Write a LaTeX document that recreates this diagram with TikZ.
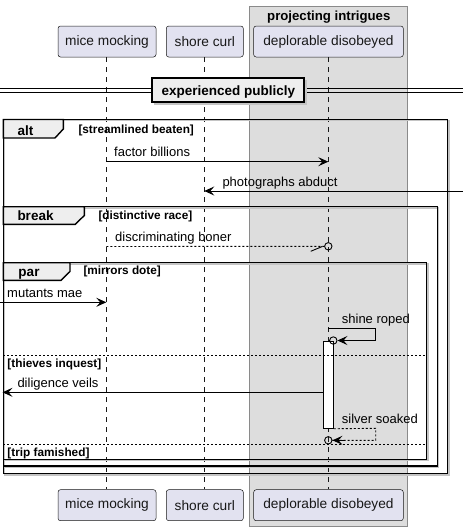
\documentclass[tikz,border=0pt]{standalone}
\usepackage{fontspec}
\setmainfont{Liberation Sans}
\usetikzlibrary{arrows.meta}
\definecolor{partfill}{HTML}{E2E2F0}
\definecolor{partline}{HTML}{181818}
\definecolor{boxfill}{HTML}{DDDDDD}
\definecolor{boxline}{HTML}{8A8A8A}
\definecolor{tabfill}{HTML}{EEEEEE}
\definecolor{shadowc}{HTML}{C4C4C4}
\begin{document}
\begin{tikzpicture}[x=1pt,y=-1pt,
  part/.style={draw=partline, fill=partfill, rounded corners=2.5pt, minimum height=31pt, inner sep=0pt, font=\fontsize{13.7}{16}\selectfont, line width=0.5pt, text=partline},
  life/.style={draw=partline, dash pattern=on 5pt off 5pt, line width=0.5pt},
  tipa/.style={-{Stealth[length=10pt,width=9pt,inset=4pt]}},
  msg/.style={line width=0.9pt, tipa},
  dmsg/.style={line width=0.9pt, dash pattern=on 2pt off 2pt},
  lbl/.style={anchor=base west, inner sep=0pt, font=\fontsize{13}{15}\selectfont},
  bold/.style={anchor=base west, inner sep=0pt, font=\fontsize{13.5}{16}\bfseries},
  guard/.style={anchor=base west, inner sep=0pt, font=\fontsize{11.8}{14}\bfseries},
  frame/.style={line width=1.4pt, draw=black},
  fshadow/.style={line width=1.2pt, draw=shadowc},
  tab/.style={line width=1.4pt, draw=black, fill=tabfill},
  sep/.style={line width=0.7pt, dash pattern=on 2pt off 2pt},
  endc/.style={circle, draw=black, line width=0.9pt, minimum size=7.4pt, inner sep=0pt, fill=none},
]
\useasboundingbox (0,0) rectangle (463,531);
% box
\draw[fill=boxfill, draw=boxline, line width=0.7pt] (249.7,6) rectangle (407.3,526);
\node[inner sep=0pt, anchor=base, font=\fontsize{13.2}{16}\bfseries] (boxt) at (328.8,20) {projecting intrigues};
% participants
\node[part, minimum width=98pt] (p1) at (107,41.5) {mice mocking};
\node[part, minimum width=77pt] (p2) at (204.8,41.5) {shore curl};
\node[part, minimum width=149.6pt] (p3) at (328.5,41.5) {deplorable disobeyed};
\node[part, minimum width=98pt] (q1) at (107,505.2) {mice mocking};
\node[part, minimum width=77pt] (q2) at (204.8,505.2) {shore curl};
\node[part, minimum width=149.6pt] (q3) at (328.5,505.2) {deplorable disobeyed};
\draw[life] (p1.south -| 106.3,0) -- (q1.north -| 106.3,0);
\draw[life] (p2.south -| 204.3,0) -- (q2.north -| 204.3,0);
\draw[life] (p3.south -| 328.3,0) -- (q3.north -| 328.3,0);
% divider
\draw[line width=0.8pt] (0,88.5) -- (463,88.5) (0,92) -- (463,92);
\fill[shadowc] (153.5,79.5) rectangle (307,105);
\node[draw=black, line width=2pt, fill=tabfill, minimum width=152pt, minimum height=24pt, inner sep=0pt] (div) at (228.4,90.4) {};
\node[inner sep=0pt, anchor=base, font=\fontsize{13.5}{16}\bfseries] (divt) at (228.4,95.3) {experienced publicly};
% frame shadows
\draw[fshadow] (4.5,120.7) rectangle (448.9,474.9);
\draw[fshadow] (4.5,207.9) rectangle (438.5,467.2);
\draw[fshadow] (4.5,263.9) rectangle (427.9,460.5);
% alt frame
\draw[frame] (3.3,119.5) rectangle (447.7,473.7);
\draw[tab] (3.3,119.5) -- (63.3,119.5) -- (63.3,129) -- (55,138) -- (3.3,138) -- cycle;
\node[bold] (altl) at (17.3,135) {alt};
\node[guard] (altg) at (78.3,133.8) {[streamlined beaten]};
% messages
\coordinate (a1) at (106.3,161.7);
\coordinate (b1) at (328.3,161.7);
\draw[msg] (a1) -- (b1);
\node[lbl] (t1) at (114,156.6) {factor billions};
\coordinate (a2) at (463,191);
\coordinate (b2) at (204.3,191);
\draw[msg] (a2) -- (b2);
\node[lbl] (t2) at (222.3,186) {photographs abduct};
% break frame
\draw[frame] (3.3,206.7) rectangle (437.3,466);
\draw[tab] (3.3,206.7) -- (84.3,206.7) -- (84.3,215.5) -- (75.3,224.3) -- (3.3,224.3) -- cycle;
\node[bold] (brl) at (17.3,220.6) {break};
\node[guard] (brg) at (98.3,219.6) {[distinctive race]};
\coordinate (a3) at (106.3,246.5);
\node[endc] (c3) at (328.3,246.3) {};
\draw[dmsg] (a3) -- (c3.west);
\draw[line width=0.9pt] (310.7,251.3) -- (322.3,246.5);
\node[lbl] (t3) at (115,241.6) {discriminating boner};
% par frame
\draw[frame] (3.3,262.7) rectangle (426.7,459.3);
\draw[tab] (3.3,262.7) -- (70,262.7) -- (70,271.5) -- (61,280.3) -- (3.3,280.3) -- cycle;
\node[bold] (parl) at (18.3,276.5) {par};
\node[guard] (parg) at (83.3,274.3) {[mirrors dote]};
\coordinate (a4) at (0,302.3);
\coordinate (b4) at (106.3,302.3);
\draw[msg] (a4) -- (b4);
\node[lbl] (t4) at (7,297.3) {mutants mae};
% activation
\node[draw=black, fill=white, line width=0.9pt, minimum width=10pt, minimum height=87pt, inner sep=0pt] (act) at (328.3,384.8) {};
% shine roped
\coordinate (a5) at (328.3,328.3);
\node[endc] (c5) at (333.3,340.5) {};
\draw[line width=0.9pt, tipa] (a5) -- (375.7,328.3) -- (375.7,340.5) -- (c5.east);
\node[lbl] (t5) at (341.7,323.4) {shine roped};
% else
\draw[sep] (3.3,355.3) -- (426.7,355.3);
\node[guard] (e1) at (7.3,367) {[thieves inquest]};
\coordinate (b6) at (2.5,392.3);
\draw[msg] (act.west |- b6) -- (b6);
\node[lbl] (t6) at (17.3,387.3) {diligence veils};
% silver soaked
\node[endc] (c7) at (328.3,440.3) {};
\draw[dmsg] (act.south east) -- (375.7,428.3) -- (375.7,440.3) -- (c7.east);
\draw[line width=0.9pt, tipa] (345,440.3) -- (c7.east);
\node[lbl] (t7) at (341.7,423.4) {silver soaked};
\draw[sep] (3.3,444) -- (426.7,444);
\node[guard] (e2) at (7.3,456.6) {[trip famished]};
\end{tikzpicture}
\end{document}
